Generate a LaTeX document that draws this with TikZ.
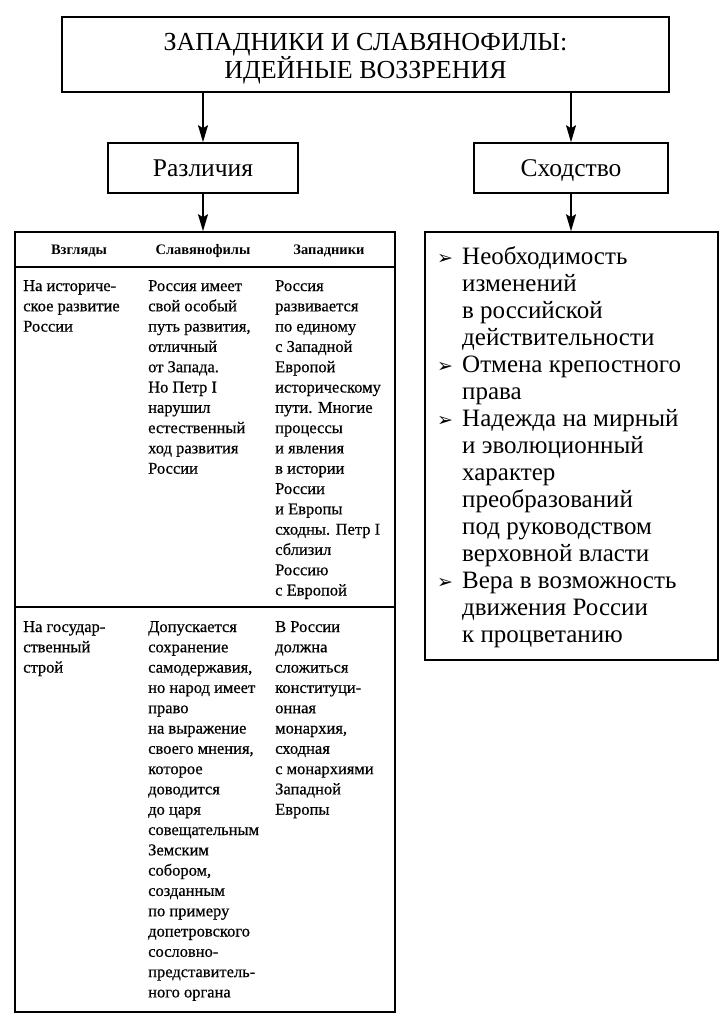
\documentclass[tikz,border=0pt]{standalone}
\usepackage{fontspec}
\setmainfont{Liberation Serif}
\newfontfamily\symfont{DejaVu Sans}
\newfontfamily\cellfont[FakeBold=0.5]{Liberation Serif}
\usetikzlibrary{arrows.meta,positioning}

\newcommand{\bul}{\makebox[25pt][l]{\symfont\fontsize{19}{19}\selectfont ➢}}
\newcommand{\ind}{\hspace*{25pt}}

\begin{document}
\begin{tikzpicture}[x=1pt, y=-1pt,
    box/.style={draw, line width=1.6pt, inner sep=0pt},
    level/.style={box, minimum height=50pt, text height=20pt, text depth=3pt, font=\fontsize{25.5}{26}\selectfont},
    link/.style={-{Stealth[length=17pt,width=10pt,inset=3pt]}, line width=1.6pt},
    rule/.style={line width=1.6pt},
    cell/.style={anchor=north west, align=left, inner sep=0pt, font=\cellfont\fontsize{16.5}{20.3}\selectfont},
    head/.style={inner sep=0pt, font=\bfseries\fontsize{14.5}{16}\selectfont}]
    \useasboundingbox (0,0) rectangle (722,1015);

    % Title
    \node[box, minimum width=607pt, minimum height=75pt] (title) at (365.5,54.5) {};
    \node[align=center, inner sep=0pt, font=\fontsize{26}{26}\selectfont]
        (titletext) at (365.5,58.5) {ЗАПАДНИКИ И СЛАВЯНОФИЛЫ:\\ИДЕЙНЫЕ ВОЗЗРЕНИЯ};

    % Second level
    \node[level, minimum width=190pt] (diff) at (203,168) {Различия};
    \node[level, minimum width=194pt] (sim) at (571,168) {Сходство};

    % Table frame
    \node[box, minimum width=380pt, minimum height=780pt] (tbl) at (205,622) {};
    \draw[rule] (tbl.west |- 0,267) -- (tbl.east |- 0,267);
    \draw[rule] (tbl.west |- 0,607) -- (tbl.east |- 0,607);

    % Header
    \node[head] (hview) at (79,251) {Взгляды};
    \node[head] (hslav) at (203,251) {Славянофилы};
    \node[head] (hwest) at (329,251) {Западники};

    % Row 1
    \node[cell] (r1a) at (23,280) {На историче-\\ское развитие\\России};
    \node[cell] (r1b) at (148,280) {Россия имеет\\свой особый\\путь развития,\\отличный\\от Запада.\\Но Петр I\\нарушил\\естественный\\ход развития\\России};
    \node[cell] (r1c) at (275,280) {Россия\\развивается\\по единому\\с Западной\\Европой\\историческому\\пути. Многие\\процессы\\и явления\\в истории\\России\\и Европы\\сходны. Петр I\\сблизил\\Россию\\с Европой};

    % Row 2
    \node[cell] (r2a) at (23,621) {На государ-\\ственный\\строй};
    \node[cell] (r2b) at (148,621) {Допускается\\сохранение\\самодержавия,\\но народ имеет\\право\\на выражение\\своего мнения,\\которое\\доводится\\до царя\\совещательным\\Земским\\собором,\\созданным\\по примеру\\допетровского\\сословно-\\представитель-\\ного органа};
    \node[cell] (r2c) at (275,621) {В России\\должна\\сложиться\\конституци-\\онная\\монархия,\\сходная\\с монархиями\\Западной\\Европы};

    % Similarities list
    \node[box, minimum width=293pt, minimum height=428pt] (simlist) at (571.5,446) {};
    \node[anchor=north west, align=left, inner sep=0pt, font=\fontsize{25}{27}\selectfont]
        (simtext) at (437,246) {\bul Необходимость\\\ind изменений\\\ind в российской\\\ind действительности\\
        \bul Отмена крепостного\\\ind права\\
        \bul Надежда на мирный\\\ind и эволюционный\\\ind характер\\\ind преобразований\\\ind под руководством\\\ind верховной власти\\
        \bul Вера в возможность\\\ind движения России\\\ind к процветанию};

    % Arrows
    \draw[link] (title.south -| diff.north) -- (diff.north);
    \draw[link] (title.south -| sim.north) -- (sim.north);
    \draw[link] (diff.south) -- (diff.south |- tbl.north);
    \draw[link] (sim.south) -- (sim.south |- simlist.north);
\end{tikzpicture}
\end{document}
